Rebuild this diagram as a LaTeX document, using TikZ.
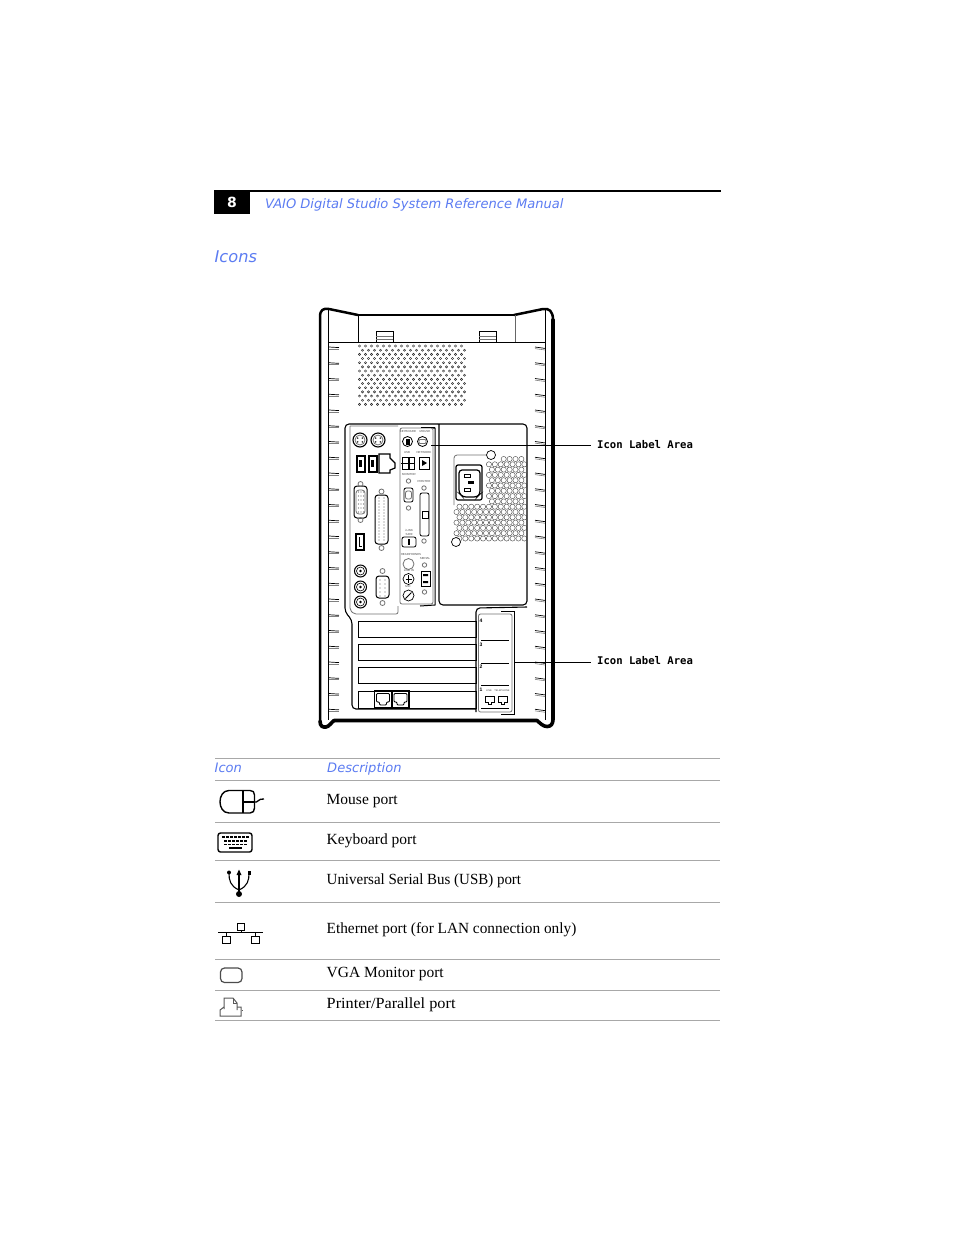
\documentclass[tikz,border=0pt]{standalone}
\usepackage{graphicx}
\usepackage{fontspec}
\setmainfont{Liberation Serif}
\newfontfamily\hdfont{DejaVu Sans}
\newfontfamily\lblfont{DejaVu Sans Mono}
\newfontfamily\tinyfont{Liberation Sans}
\definecolor{hdblue}{HTML}{5C7CF2}
\definecolor{rulegray}{HTML}{A8A8A8}
\tikzset{
  x=1pt,y=-1pt,
  thin line/.style={line width=.9pt,black},
  table rule/.style={line width=.8pt,rulegray},
  blue head/.style={anchor=base west,inner sep=0pt,text=hdblue,font=\hdfont\itshape\fontsize{13.05}{13}\selectfont},
  body text/.style={anchor=base west,inner sep=0pt,font=\fontsize{15.5}{15.5}\selectfont},
  callout/.style={anchor=base west,inner sep=0pt,font=\lblfont\bfseries\fontsize{10.6}{10.6}\selectfont},
  tiny label/.style={inner sep=0pt,text=black!70,font=\tinyfont\fontsize{2.9}{3.2}\selectfont},
  slot num/.style={inner sep=0pt,font=\tinyfont\bfseries\fontsize{5}{5}\selectfont},
  icon/.style={line width=1.4pt,black,line join=round},
  soft/.style={line width=.8pt,black!55},
}
\begin{document}
\begin{tikzpicture}
\useasboundingbox (0,0) rectangle (954,1235);
\fill[white] (0,0) rectangle (954,1235);
% page header
\fill[black] (214,190) rectangle (250,214);
\draw[line width=2pt] (214,191) -- (721,191);
\node[inner sep=0pt,text=white,font=\hdfont\bfseries\fontsize{14}{14}\selectfont] (pagenum) at (232,202) {8};
\node[blue head] (title) at (265,208) {VAIO Digital Studio System Reference Manual};
\node[blue head,font=\hdfont\itshape\fontsize{16.2}{17}\selectfont] (icons) at (214.5,262) {Icons};
% tower outline
\draw[line width=2.5pt,line cap=round,line join=round] (358,315) -- (329,309) .. controls (323,308) and (320,310) .. (320,317) -- (320,721);
\draw[line width=3.6pt,line cap=round,line join=round] (320,721) .. controls (320,726.5) and (323,727.5) .. (326,727) .. controls (329,726.5) and (331,723) .. (334,720.5) -- (537,720.5) .. controls (540,723) and (543,726.5) .. (547,726.5) .. controls (551,726.5) and (553,724) .. (553,719);
\draw[line width=3.8pt,line cap=round] (553,719) -- (553,320);
\draw[line width=2.5pt,line cap=round,line join=round] (514,315) -- (543,309) .. controls (549,308) and (553,311) .. (553,320);
\draw[line width=2pt] (358,315) -- (514,315);
\draw[thin line] (328.5,310) -- (328.5,720) (545.5,310) -- (545.5,720);
\draw[thin line] (328.5,342) -- (545.5,342);
\draw[thin line] (358,315) -- (358,342);
\draw[line width=.9pt,black!60] (515,315) -- (515,342);
\foreach \x in {376,479}{
  \draw[thin line] (\x,342) -- (\x,331) -- (\x+17,331) -- (\x+17,342);
  \draw[soft] (\x,336) -- (\x+17,336) (\x,339) -- (\x+17,339);
}
% side ticks
\foreach \i in {0,...,23}{
  \pgfmathsetmacro{\yy}{347+15.75*\i}
  \draw[line width=.7pt] (329,\yy) -- (339,\yy+.6);
  \draw[line width=.6pt,black!50] (329,\yy+2) -- (339,\yy+2);
  \draw[line width=.7pt] (535,\yy) -- (545,\yy+1.4);
  \draw[line width=.6pt,black!50] (535,\yy+1.6) -- (545,\yy+3);
}
% vent
\foreach \r in {0,...,14}{
  \pgfmathsetmacro{\yy}{346+4.17*\r}
  \pgfmathtruncatemacro{\od}{mod(\r,2)}
  \foreach \c in {0,...,17}{
    \pgfmathsetmacro{\xx}{359.5+6.0*\c+3.0*\od}
    \draw[line width=.45pt,black!85] (\xx,\yy) circle[radius=1.1];
  }
}
% main I/O panel
\draw[line width=1.1pt,rounded corners=4pt] (437,424) -- (345,424) -- (345,612) -- (352,620) -- (352,709) -- (476,709);
\draw[line width=1.1pt,rounded corners=4pt] (437,424) -- (527,424) -- (527,605) -- (439,605) -- (439,424);
\draw[soft,rounded corners=2pt] (350,426) -- (350,610) -- (354,614) -- (398,614) -- (398,606) (398,426) -- (350,426);
% icon label strip
\draw[soft,rounded corners=2pt] (400,428) rectangle (433,604);
\draw[line width=1pt] (433,428) -- (435,428) -- (435,605) -- (420,606);
\draw[line width=1pt] (421,427) -- (435,427);
% PS/2 ports
\foreach \x/\n in {360/a,378/b}{
  \draw[line width=1.1pt] (\x,440) circle[radius=7];
  \draw[soft] (\x,440) circle[radius=5];
  \foreach \a in {40,140,220,320}{\fill (\x,440) ++(\a:-3) circle[radius=.8];}
}
% USB
\foreach \x in {355.5,367.5}{
  \fill[black] (\x,455) rectangle (\x+10,473);
  \fill[white] (\x+2,457) rectangle (\x+8,471);
  \fill[black] (\x+3.5,460) rectangle (\x+6,467);
}
% RJ45
\draw[line width=1.2pt] (379,454) -- (390,454) -- (390,458) -- (395,463) -- (395,468) -- (390,470) -- (390,473) -- (379,473) -- cycle;
% VGA connector
\draw[line width=1pt,rounded corners=3pt] (354,486) rectangle (367,518);
\draw[soft,rounded corners=3pt] (356,490) rectangle (365,514);
\foreach \py in {492,496,...,512}{\foreach \px in {358.5,361,363.5}{\fill[black!60] (\px,\py) circle[radius=.55];}}
\draw[soft] (360.5,484) circle[radius=2.5] (360.5,520) circle[radius=2.5];
% parallel
\draw[line width=1pt,rounded corners=3pt] (375,495) rectangle (388,544);
\foreach \py in {498,501,...,542}{\foreach \px in {379,384}{\fill[black!60] (\px,\py) circle[radius=.55];}}
\draw[soft] (381.5,491.5) circle[radius=2.5] (381.5,548) circle[radius=2.5];
% i.LINK
\fill[black] (355,533) rectangle (365,551);
\fill[white] (357,535) rectangle (363,549);
\draw[line width=1pt] (359,537) -- (359,546) -- (362,546);
% audio jacks
\foreach \py in {571,587,602}{
  \draw[line width=1pt] (360.5,\py) circle[radius=6];
  \draw[line width=.6pt] (360.5,\py) circle[radius=4];
  \fill (360.5,\py) circle[radius=1.4];
}
% serial
\draw[line width=1pt,rounded corners=3pt] (376,576) rectangle (389,598);
\foreach \py in {580,584,...,596}{\foreach \px in {380,385}{\fill[black!60] (\px,\py) circle[radius=.6];}}
\draw[soft] (382.5,571) circle[radius=2.5] (382.5,603) circle[radius=2.5];
% panel labels
\node[tiny label] (lkbd) at (408,431.5) {KEYBOARD};
\node[tiny label] (lmouse) at (425,431.5) {MOUSE};
\node[tiny label] (lusb) at (407,452.5) {USB};
\node[tiny label] (lnet) at (424,452.5) {NETWORK};
\node[tiny label] (lmon) at (409,474.5) {MONITOR};
\node[tiny label] (lprn) at (424,481.5) {PRINTER};
\node[tiny label,align=center] (llink) at (409,532.5) {i.LINK\\S400};
\node[tiny label] (lhead) at (411,554.5) {HEADPHONES};
\node[tiny label] (lser) at (425,558.5) {SERIAL};
\node[tiny label] (lline) at (409,570.5) {LINE IN};
\node[tiny label] (lmic) at (408,586.5) {MIC};
% strip glyphs
\draw[line width=.8pt] (407.5,441.5) circle[radius=5];
\fill (405.5,438.5) rectangle (409.5,444.5);
\draw[line width=.8pt] (422.5,441.5) circle[radius=5];
\draw[soft,rounded corners=1pt] (419,439.5) rectangle (426,443.5);
\draw[line width=.8pt] (402,457) rectangle (408,469) (409,457) rectangle (414,469);
\draw[line width=.6pt] (401,463) -- (414,463);
\draw[line width=.8pt] (419,457) rectangle (429,469);
\fill (422,460) -- (427,463) -- (422,466) -- cycle;
\draw[soft] (408.5,481) circle[radius=2.2] (408.5,508) circle[radius=2.2];
\draw[line width=.8pt,rounded corners=2pt] (404,488) rectangle (413,502);
\draw[soft,rounded corners=2pt] (405.5,491) rectangle (411.5,499);
\draw[soft] (424,488) circle[radius=2.2] (424,541) circle[radius=2.2];
\draw[line width=.8pt,rounded corners=2pt] (420,493) rectangle (429,536);
\draw[line width=.8pt] (422,511) rectangle (428,518);
\draw[line width=.8pt,rounded corners=2pt] (402,537) rectangle (416,547);
\fill (408,539) rectangle (410,545);
\draw[soft] (408.5,564) circle[radius=5.5];
\draw[soft] (424.5,565) circle[radius=2.2] (424.5,592) circle[radius=2.2];
\draw[line width=.9pt] (421,571) rectangle (430,586);
\fill (423,574) rectangle (428,576) (423,581) rectangle (428,583);
\draw[line width=.7pt] (408.5,579) circle[radius=5.5];
\draw[line width=.7pt] (408.5,575) -- (408.5,583) (405.5,579) -- (411.5,579);
\draw[line width=.7pt] (408.5,595.5) circle[radius=5.5];
\draw[line width=1pt] (405.5,598.5) -- (411.5,592.5);
% power supply
\draw[soft,rounded corners=3pt] (490,455) -- (454,455) -- (454,505);
\foreach \r in {0,...,15}{
  \pgfmathsetmacro{\yy}{459+5.3*\r}
  \pgfmathtruncatemacro{\od}{mod(\r,2)}
  \foreach \c in {0,...,11}{
    \pgfmathsetmacro{\xx}{456.5+5.9*\c+2.95*\od}
    \pgfmathparse{(\yy>504 || \xx>488 ) && !(\yy<462 && \xx<499)?1:0}
    \ifnum\pgfmathresult=1
      \draw[line width=.4pt,black!75] (\xx,\yy) circle[radius=2.6];
    \fi
  }
}
\fill[white] (491,455) circle[radius=5];
\draw[line width=.7pt] (491,455) circle[radius=4.5];
\fill[white] (456,542) circle[radius=5];
\draw[line width=.7pt] (456,542) circle[radius=4.5];
\draw[line width=1.2pt,rounded corners=2pt] (456,465) rectangle (482,500);
\draw[line width=1.2pt,rounded corners=3pt] (459,470) -- (459,493) -- (463,497) -- (477,497) -- (480,494) -- (480,470) -- cycle;
\draw[line width=.8pt] (464,474) rectangle (470,477) (464,488) rectangle (470,491);
\fill (468,480.5) rectangle (474,484);
% slots
\foreach \ya/\yb in {621/637,644/660,667/683,691/708}{
  \draw[line width=1pt] (358,\ya) rectangle (476,\yb);
}
\foreach \x in {374.5,392}{
  \draw[line width=1.1pt] (\x,691) rectangle (\x+17,708);
  \draw[line width=.9pt,rounded corners=1pt] (\x+2,693.5) -- (\x+15,693.5) -- (\x+15,702) -- (\x+12,702) -- (\x+12,705) -- (\x+5,705) -- (\x+5,702) -- (\x+2,702) -- cycle;
}
% slot label area
\draw[line width=1.1pt,rounded corners=4pt] (476,712) -- (476,608) -- (527,607);
\draw[soft,rounded corners=2pt] (478.5,614) rectangle (512,712);
\draw[line width=1pt] (501,611) -- (514,611) -- (514,714) -- (501,714);
\foreach \yy in {640,663,685.5,708.5}{\draw[line width=.8pt] (481,\yy) -- (509,\yy);}
\node[slot num] (n4) at (481,620.5) {4};
\node[slot num] (n3) at (481,645) {3};
\node[slot num] (n2) at (481,667) {2};
\node[slot num] (n1) at (481,690) {1};
\node[tiny label,font=\tinyfont\fontsize{2.5}{3}\selectfont] (lline2) at (489,690.5) {LINE};
\node[tiny label,font=\tinyfont\fontsize{2.5}{3}\selectfont] (lphone) at (502,690.5) {TELEPHONE};
\foreach \x in {485,498}{
  \draw[line width=1pt] (\x,696) -- (\x+9,696) -- (\x+9,702) -- (\x+6,702) -- (\x+6,704.5) -- (\x+3,704.5) -- (\x+3,702) -- (\x,702) -- cycle;
}
% callouts
\node[callout] (label1) at (597,448) {Icon Label Area};
\node[callout] (label2) at (597,664) {Icon Label Area};
\coordinate (c1) at (431,445);
\coordinate (c1e) at (590.5,445);
\coordinate (c2) at (514,662);
\coordinate (c2e) at (590.5,662);
\draw[line width=1pt] (c1) -- (c1e);
\draw[line width=1pt] (c2) -- (c2e);
% table
\foreach \yy in {758.5,780.5,822.5,860.5,902.5,959.5,990.5,1020.5}{
  \draw[table rule] (215,\yy) -- (720,\yy);
}
\node[blue head] (hicon) at (214.5,772) {Icon};
\node[blue head] (hdesc) at (327,772) {Description};
\node[body text] (t1) at (326.5,804) {Mouse port};
\node[body text] (t2) at (326.5,844) {Keyboard port};
\node[body text] (t3) at (326.5,884) {\scalebox{0.965}[1]{Universal Serial Bus (USB) port}};
\node[body text] (t4) at (326.5,933) {\scalebox{0.988}[1]{Ethernet port (for LAN connection only)}};
\node[body text] (t5) at (326.5,977) {VGA Monitor port};
\node[body text] (t6) at (326.5,1008) {\scalebox{1.05}[1]{Printer/Parallel port}};
% mouse icon
\draw[icon] (229,790.5) -- (250,790.5) .. controls (253,790.5) and (254.5,792) .. (254.5,795) -- (254.5,808) .. controls (254.5,811) and (253,813) .. (250,813) -- (229,813) .. controls (217,813) and (217,790.5) .. (229,790.5) -- cycle;
\draw[icon] (243,790.5) -- (243,813) (243,802) -- (254,802);
\draw[line width=1.3pt] (254,802) .. controls (258,803.5) and (258,798) .. (264,799);
% keyboard icon
\draw[icon,rounded corners=2.5pt] (218,833) rectangle (252,852);
\foreach \kx in {222,226,...,246}{\fill (\kx,836) rectangle (\kx+2.6,838);}
\foreach \kx in {224,228,...,244}{\fill (\kx,840) rectangle (\kx+2.6,842.2);}
\foreach \kx in {224,228,...,244}{\fill (\kx,843.6) rectangle (\kx+2.6,845.4);}
\fill (229,847) rectangle (242,849);
% USB icon
\fill (239,894) circle[radius=3];
\draw[line width=1.1pt] (239,894) -- (239,873);
\fill (239,869.5) -- (241.5,875) -- (236.5,875) -- cycle;
\draw[line width=1.1pt] (239,890) .. controls (230,886) and (229,880) .. (229,873);
\draw[line width=1.1pt] (239,890) .. controls (248,886) and (249,880) .. (249,873);
\fill (229,872.5) circle[radius=2];
\fill (247.5,871) rectangle (251,874.5);
% ethernet icon
\draw[line width=.9pt] (218,932.5) -- (263,932.5);
\draw[line width=.9pt] (237.5,923) rectangle (244.5,930) (241,930) -- (241,932.5);
\draw[line width=.9pt] (222.5,936) rectangle (230.5,943) (226.5,932.5) -- (226.5,936);
\draw[line width=.9pt] (251.5,936) rectangle (259,943) (255,932.5) -- (255,936);
% monitor icon
\draw[line width=1.2pt,black!70,rounded corners=4pt] (220.5,968) rectangle (242,982.5);
% printer icon
\draw[line width=1pt,black!65] (224,1009) -- (224,998) -- (233,998) -- (237,1003) -- (237,1010);
\draw[line width=.8pt,black!65] (233,998) -- (233,1003) -- (237,1003);
\draw[line width=1pt,black!65] (224,1007) -- (220,1010) -- (220,1016) -- (241,1016) -- (241,1007) -- (237,1007);
\draw[line width=1pt,black!65] (241.5,1010) -- (242.5,1010);
\end{tikzpicture}
\end{document}
